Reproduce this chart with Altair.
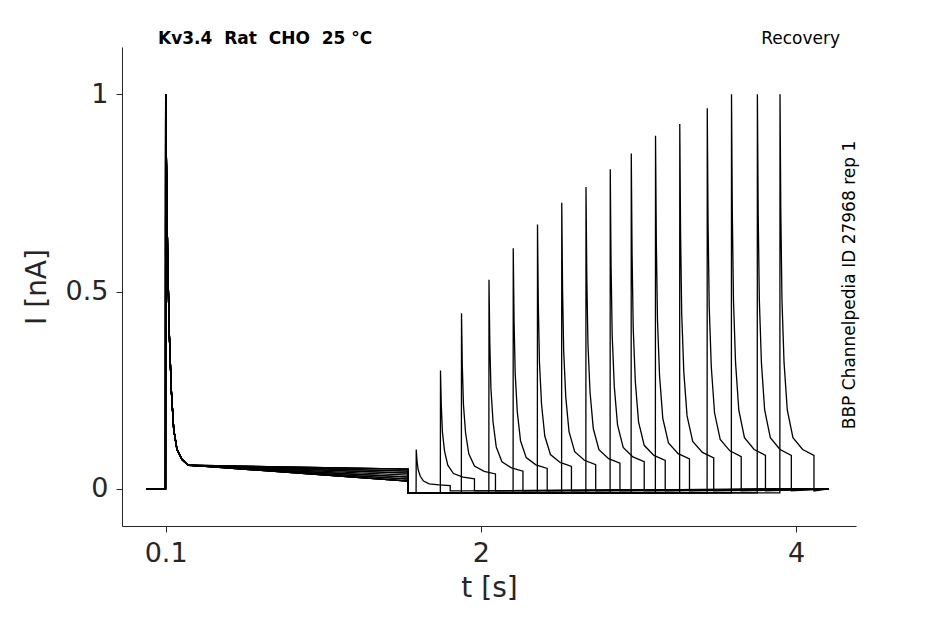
import altair as alt
import pandas as pd

# recovery peak times (s) and peak heights (normalised current)
rec_t = [1.65, 1.80, 1.93, 2.10, 2.25, 2.40, 2.55, 2.70, 2.85, 2.98, 3.13, 3.28, 3.45, 3.60, 3.76, 3.90]
rec_peak = [0.10, 0.30, 0.445, 0.53, 0.61, 0.67, 0.725, 0.765, 0.81, 0.85, 0.895, 0.925, 0.965, 1.0, 1.0, 1.0]
# plateau level at the end of the first pulse, per sweep
hold = [0.02, 0.05, 0.03, 0.045, 0.02, 0.04, 0.025, 0.05, 0.035, 0.02, 0.045, 0.03, 0.04, 0.025, 0.05, 0.02]
# first pulse decay template (time after onset, fraction of peak)
dec1_dt = [0.0, 0.005, 0.012, 0.022, 0.035, 0.05, 0.07, 0.1, 0.14]
dec1_f = [1.0, 0.82, 0.6, 0.4, 0.25, 0.15, 0.1, 0.075, 0.06]
# recovery pulse decay template
dec2_dt = [0.0, 0.005, 0.012, 0.025, 0.045, 0.08, 0.14, 0.21]
dec2_f = [1.0, 0.7, 0.48, 0.32, 0.2, 0.13, 0.1, 0.085]
step1_end = 1.6
step2_len = 0.21
sweep_end = 4.2

rows = []
for i, (tr, pk, h) in enumerate(zip(rec_t, rec_peak, hold)):
    pts = [(-0.02, 0.0), (0.099, 0.0)]
    for dt, f in zip(dec1_dt, dec1_f):
        pts.append((0.1 + dt, max(f, h)))
    pts += [(step1_end, h), (step1_end, -0.01), (tr - 0.001, -0.01)]
    for dt, f in zip(dec2_dt, dec2_f):
        pts.append((tr + dt, pk * f))
    pts += [(tr + step2_len, -0.005), (sweep_end, 0.0)]
    for k, (t, v) in enumerate(pts):
        rows.append({"sweep": i, "order": k, "t": t, "I": v})
df = pd.DataFrame(rows)

W, H = 734, 479
font = "DejaVu Sans"

lines = alt.Chart(df).mark_line(color="black", strokeWidth=1.3).encode(
    x=alt.X("t:Q", scale=alt.Scale(domain=[-0.17, 4.37], nice=False),
            axis=alt.Axis(values=[0.1, 2.05, 4], format="~g", title="t [s]", grid=False)),
    y=alt.Y("I:Q", scale=alt.Scale(domain=[-0.094, 1.12], nice=False),
            axis=alt.Axis(values=[0, 0.5, 1], format="~g", title="I [nA]", grid=False)),
    detail="sweep:N",
    order="order:Q",
)

tx = pd.DataFrame({"a": [0]})
title = alt.Chart(tx).mark_text(text="Kv3.4\u00a0\u00a0Rat\u00a0\u00a0CHO\u00a0\u00a025 °C", fontWeight="bold",
                                 fontSize=17, align="left", font=font).encode(x=alt.value(36), y=alt.value(-8))
rec = alt.Chart(tx).mark_text(text="Recovery", fontSize=17, align="right", font=font).encode(
    x=alt.value(718), y=alt.value(-8))
side = alt.Chart(tx).mark_text(text="BBP Channelpedia ID 27968 rep 1", fontSize=17, angle=270,
                                align="center", font=font).encode(x=alt.value(728), y=alt.value(238))

chart = alt.layer(lines, title, rec, side).properties(
    width=W, height=H, autosize="none",
    padding={"left": 114, "top": 39, "right": 75, "bottom": 90},
).configure_view(stroke=None).configure_axis(
    labelFont=font, titleFont=font, labelFontSize=27, titleFontSize=28, titleFontWeight="normal",
    labelColor="#262626", titleColor="#262626", domainColor="#262626", tickColor="#262626",
    tickSize=6, labelPadding=8,
).configure_axisX(titlePadding=8).configure_axisY(titlePadding=14)

chart.save("out.html", embed_options={"renderer": "svg", "actions": False})
